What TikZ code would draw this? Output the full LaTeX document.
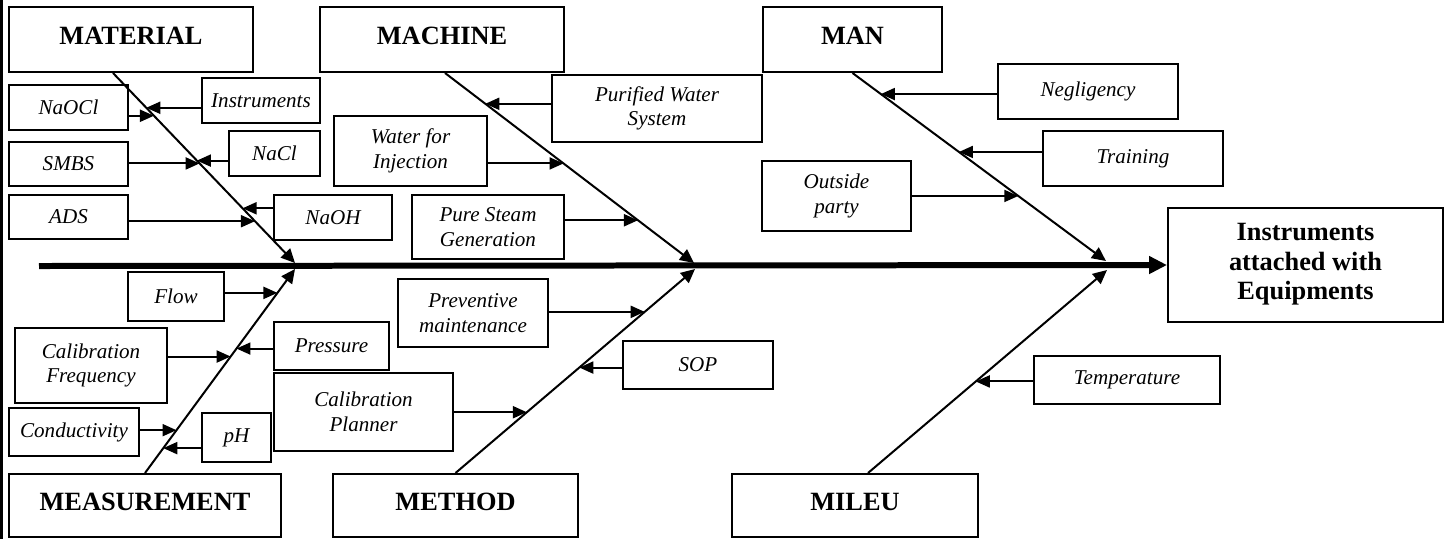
\documentclass[tikz,border=0pt]{standalone}
\usepackage{fontspec}
\setmainfont{Liberation Serif}
\usetikzlibrary{arrows.meta,calc}

\begin{document}
\begin{tikzpicture}[x=0.02cm,y=-0.02cm,
    catbox/.style={draw,line width=0.04cm,inner sep=0pt,align=center,text depth=4pt,
      font=\fontsize{15}{17}\selectfont\bfseries},
    causebox/.style={draw,line width=0.04cm,inner sep=0pt,align=center,
      font=\fontsize{12}{14}\selectfont\itshape},
    bone/.style={line width=0.04cm,-{Triangle[length=0.28cm,width=0.26cm]}},
    cause/.style={line width=0.04cm,-{Triangle[length=0.28cm,width=0.24cm]}},
    spine/.style={line width=0.12cm,-{Triangle[length=0.36cm,width=0.34cm]}}]
                    \useasboundingbox (0,0) rectangle (1445,539);
                    
                    % Drawing left edge
                    \draw [line width=0.06cm] (1.5,0) -- (1.5,539);%
                    
                    % Drawing head box
                    \node [catbox,minimum width=5.50cm,minimum height=2.28cm] (head) at (1305.5,265) {Instruments\\attached with\\Equipments};%
                    
                    % Drawing category boxes
                    \node [catbox,minimum width=4.88cm,minimum height=1.30cm] (matl) at (131,39.5) {MATERIAL};%
                    \node [catbox,minimum width=4.88cm,minimum height=1.30cm] (mach) at (442,39.5) {MACHINE};%
                    \node [catbox,minimum width=3.58cm,minimum height=1.30cm] (man) at (852.5,39.5) {MAN};%
                    \node [catbox,minimum width=5.44cm,minimum height=1.26cm] (meas) at (145,505.5) {MEASUREMENT};%
                    \node [catbox,minimum width=4.90cm,minimum height=1.26cm] (meth) at (455.5,505.5) {METHOD};%
                    \node [catbox,minimum width=4.92cm,minimum height=1.26cm] (mil) at (855,505.5) {MILEU};%
                    
                    % Drawing spine
                    \coordinate (tail) at (39,266);%
                    \draw [spine] (tail) -- (head.west);%
                    
                    % Drawing bones
                    \coordinate (matRoot) at ([xshift=-0.36cm]matl.south);%
                    \coordinate (machRoot) at ([xshift=0.06cm]mach.south);%
                    \coordinate (milRoot) at ([xshift=0.26cm]mil.north);%
                    \coordinate (matTip) at (295,263);%
                    \coordinate (machTip) at (694,263);%
                    \coordinate (manTip) at (1106,261);%
                    \coordinate (measTip) at (295,269);%
                    \coordinate (methTip) at (695,269);%
                    \coordinate (milTip) at (1107,270);%
                    \draw [bone] (matRoot) -- (matTip);%
                    \draw [bone] (machRoot) -- (machTip);%
                    \draw [bone] (man.south) -- (manTip);%
                    \draw [bone] (meas.north) -- (measTip);%
                    \draw [bone] (meth.north) -- (methTip);%
                    \draw [bone] (milRoot) -- (milTip);%
                    
                    % Marking causes of MATERIAL
                    \node [causebox,minimum width=2.38cm,minimum height=0.90cm] (naocl) at (68.5,107.5) {NaOCl};%
                    \node [causebox,minimum width=2.36cm,minimum height=0.90cm] (instr) at (261,100.5) {Instruments};%
                    \node [causebox,minimum width=2.38cm,minimum height=0.88cm] (smbs) at (68.5,164) {SMBS};%
                    \node [causebox,minimum width=1.82cm,minimum height=0.90cm] (nacl) at (274.5,153.5) {NaCl};%
                    \node [causebox,minimum width=2.38cm,minimum height=0.88cm] (ads) at (68.5,217) {ADS};%
                    \node [causebox,minimum width=2.36cm,minimum height=0.90cm] (naoh) at (333,217.5) {NaOH};%
                    \coordinate (mt1) at ($(matRoot)!0.225!(matTip)$);%
                    \coordinate (mt2) at ($(matRoot)!0.183!(matTip)$);%
                    \coordinate (mt3) at ($(matRoot)!0.476!(matTip)$);%
                    \coordinate (mt4) at ($(matRoot)!0.461!(matTip)$);%
                    \coordinate (mt5) at ($(matRoot)!0.780!(matTip)$);%
                    \coordinate (mt6) at ($(matRoot)!0.712!(matTip)$);%
                    \draw [cause] (naocl.east |- mt1) -- (mt1);%
                    \draw [cause] (instr.west |- mt2) -- (mt2);%
                    \draw [cause] (smbs.east |- mt3) -- (mt3);%
                    \draw [cause] (nacl.west |- mt4) -- (mt4);%
                    \draw [cause] (ads.east |- mt5) -- (mt5);%
                    \draw [cause] (naoh.west |- mt6) -- (mt6);%
                    
                    % Marking causes of MACHINE
                    \node [causebox,minimum width=4.20cm,minimum height=1.34cm] (pws) at (657,108.5) {Purified Water\\System};%
                    \node [causebox,minimum width=3.06cm,minimum height=1.40cm] (wfi) at (410.5,151) {Water for\\Injection};%
                    \node [causebox,minimum width=3.04cm,minimum height=1.28cm] (psg) at (488,227) {Pure Steam\\Generation};%
                    \coordinate (ct1) at ($(machRoot)!0.162!(machTip)$);%
                    \coordinate (ct2) at ($(machRoot)!0.476!(machTip)$);%
                    \coordinate (ct3) at ($(machRoot)!0.775!(machTip)$);%
                    \draw [cause] (pws.west |- ct1) -- (ct1);%
                    \draw [cause] (wfi.east |- ct2) -- (ct2);%
                    \draw [cause] (psg.east |- ct3) -- (ct3);%
                    
                    % Marking causes of MAN
                    \node [causebox,minimum width=3.60cm,minimum height=1.10cm] (negl) at (1088,91.5) {Negligency};%
                    \node [causebox,minimum width=3.60cm,minimum height=1.10cm] (train) at (1133,158.5) {Training};%
                    \node [causebox,minimum width=2.98cm,minimum height=1.40cm] (outp) at (836.5,196) {Outside\\party};%
                    \coordinate (nt1) at ($(man.south)!0.112!(manTip)$);%
                    \coordinate (nt2) at ($(man.south)!0.420!(manTip)$);%
                    \coordinate (nt3) at ($(man.south)!0.654!(manTip)$);%
                    \draw [cause] (negl.west |- nt1) -- (nt1);%
                    \draw [cause] (train.west |- nt2) -- (nt2);%
                    \draw [cause] (outp.east |- nt3) -- (nt3);%
                    
                    % Marking causes of MEASUREMENT
                    \node [causebox,minimum width=1.92cm,minimum height=0.98cm] (flow) at (176,296.5) {Flow};%
                    \node [causebox,minimum width=3.04cm,minimum height=1.50cm] (calf) at (91,365.5) {Calibration\\Frequency};%
                    \node [causebox,minimum width=2.30cm,minimum height=0.96cm] (press) at (331.5,346) {Pressure};%
                    \node [causebox,minimum width=2.60cm,minimum height=0.96cm] (cond) at (74,432) {Conductivity};%
                    \node [causebox,minimum width=1.38cm,minimum height=0.98cm] (ph) at (236.5,437.5) {pH};%
                    \coordinate (st1) at ($(meas.north)!0.883!(measTip)$);%
                    \coordinate (st2) at ($(meas.north)!0.571!(measTip)$);%
                    \coordinate (st3) at ($(meas.north)!0.610!(measTip)$);%
                    \coordinate (st4) at ($(meas.north)!0.210!(measTip)$);%
                    \coordinate (st5) at ($(meas.north)!0.122!(measTip)$);%
                    \draw [cause] (flow.east |- st1) -- (st1);%
                    \draw [cause] (calf.east |- st2) -- (st2);%
                    \draw [cause] (press.west |- st3) -- (st3);%
                    \draw [cause] (cond.east |- st4) -- (st4);%
                    \draw [cause] (ph.west |- st5) -- (st5);%
                    
                    % Marking causes of METHOD
                    \node [causebox,minimum width=3.00cm,minimum height=1.36cm] (prev) at (473,313) {Preventive\\maintenance};%
                    \node [causebox,minimum width=3.58cm,minimum height=1.56cm] (calp) at (363.5,412) {Calibration\\Planner};%
                    \node [causebox,minimum width=3.00cm,minimum height=0.96cm] (sop) at (698,365) {SOP};%
                    \coordinate (dt1) at ($(meth.north)!0.790!(methTip)$);%
                    \coordinate (dt2) at ($(meth.north)!0.298!(methTip)$);%
                    \coordinate (dt3) at ($(meth.north)!0.517!(methTip)$);%
                    \draw [cause] (prev.east |- dt1) -- (dt1);%
                    \draw [cause] (calp.east |- dt2) -- (dt2);%
                    \draw [cause] (sop.west |- dt3) -- (dt3);%
                    
                    % Marking cause of MILEU
                    \node [causebox,minimum width=3.72cm,minimum height=0.96cm] (temp) at (1127,380) {Temperature};%
                    \coordinate (lt1) at ($(milRoot)!0.451!(milTip)$);%
                    \draw [cause] (temp.west |- lt1) -- (lt1);%
\end{tikzpicture}
\end{document}
